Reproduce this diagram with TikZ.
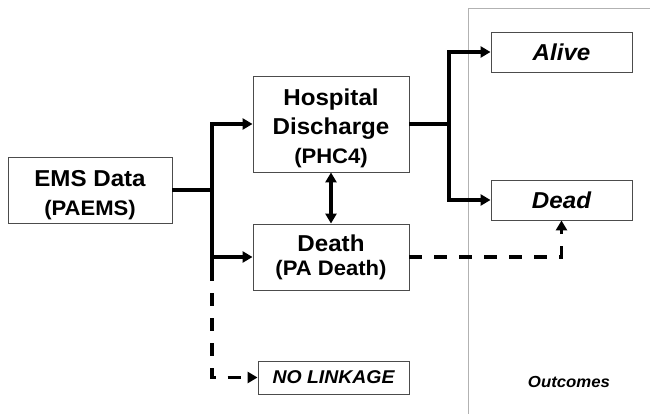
\documentclass[tikz,border=0pt]{standalone}
\usepackage{fontspec}
\setmainfont[FakeStretch=1.05]{Liberation Sans}
\usetikzlibrary{arrows.meta}
\tikzset{
  box/.style={draw=black!70, line width=0.9pt, rectangle, inner sep=0pt, align=center},
  conn/.style={line width=3.7pt},
  arr/.style={line width=3.7pt, -{Triangle[length=10pt,width=11pt]}},
  darr/.style={line width=3.7pt, {Triangle[length=10pt,width=11pt]}-{Triangle[length=10pt,width=11pt]}},
  dsh/.style={line width=3.7pt, dash pattern=on 13pt off 12pt},
  dsharr/.style={dsh, -{Triangle[length=10pt,width=11pt]}},
  itbox/.style={box, font=\fontsize{23}{27}\selectfont\bfseries\itshape},
}
\begin{document}
\begin{tikzpicture}[x=1pt,y=-1pt]
\useasboundingbox[fill=white] (0,0) rectangle (650,414);
\draw[black!30, line width=1pt] (468,414) -- (468,9) -- (650,9);

\node[box, minimum width=164pt, minimum height=66pt, font=\fontsize{23}{28.3}\selectfont\bfseries] (ems) at (90,190)
  {\rule{0pt}{26.3pt}EMS Data\\{\fontsize{21}{28.3}\selectfont (PAEMS)}};
\node[box, minimum width=156pt, minimum height=96pt, font=\fontsize{23}{29}\selectfont\bfseries] (hosp) at (331,124)
  {\rule{0pt}{24.7pt}Hospital\\Discharge\\{\fontsize{21}{29}\selectfont (PHC4)}};
\node[box, minimum width=156pt, minimum height=66pt, font=\fontsize{23}{24}\selectfont\bfseries] (death) at (331,257)
  {\rule{0pt}{18pt}Death\\{\fontsize{21}{24}\selectfont (PA Death)}};
\node[itbox, minimum width=141pt, minimum height=40pt] (alive) at (561.5,52) {Alive};
\node[itbox, minimum width=141pt, minimum height=40pt] (dead) at (561.5,200) {Dead};
\node[box, minimum width=151pt, minimum height=33pt, font=\fontsize{18.5}{22}\selectfont\bfseries\itshape] (nolink) at (333.5,377.5) {NO LINKAGE};
\node[font=\fontsize{16}{20}\selectfont\bfseries\itshape] (outc) at (569,382) {Outcomes};

\coordinate (j1) at (212,190);
\coordinate (j1b) at (212,268);
\coordinate (j2) at (449,124);

\draw[conn] (ems.east) -- (j1);
\draw[arr] (j1) |- (hosp.west);
\draw[arr] (j1) |- (death.west);
\draw[conn] (j1) -- (j1b);
\draw[dsharr] (j1b) |- (nolink.west);

\draw[conn] (hosp.east) -- (j2);
\draw[arr] (j2) |- (alive.west);
\draw[arr] (j2) |- (dead.west);

\draw[darr] (hosp.south) -- (death.north);
\draw[dsharr] (death.east) -| (dead.south);
\end{tikzpicture}
\end{document}
